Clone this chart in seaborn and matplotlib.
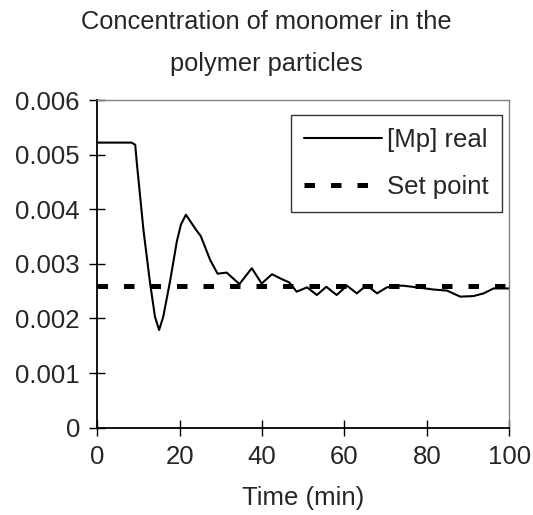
import matplotlib
matplotlib.use("Agg")
import matplotlib.pyplot as plt
import seaborn as sns
import pandas as pd

# values
time_min = [0, 8.3, 9.2, 9.6, 10.4, 11.2, 12.8, 14.0, 15.0, 16.0, 17.7, 19.3, 20.3, 21.5,
            24.0, 25.1, 27.4, 29.2, 31.4, 34.5, 37.5, 39.9, 42.4, 44.8, 46.6, 48.4,
            50.9, 53.3, 55.6, 58.1, 60.6, 63.0, 65.4, 67.9, 70.3, 72.7, 74.3, 77.6,
            81.6, 84.9, 88.1, 91.3, 93.8, 96.2, 99.0, 100]
mp_real = [5.22, 5.22, 5.18, 4.84, 4.23, 3.62, 2.65, 2.03, 1.79, 2.03, 2.70, 3.41, 3.72, 3.90,
           3.62, 3.51, 3.07, 2.82, 2.84, 2.63, 2.92, 2.64, 2.81, 2.72, 2.66, 2.49,
           2.57, 2.43, 2.58, 2.43, 2.60, 2.46, 2.61, 2.46, 2.57, 2.60, 2.60, 2.57,
           2.53, 2.51, 2.40, 2.41, 2.46, 2.55, 2.55, 2.55]
mp_real = [v / 1000 for v in mp_real]
set_time = [0, 100]
set_point = [0.0026, 0.0026]

x_ticks = [0, 20, 40, 60, 80, 100]
y_ticks = [0, 0.001, 0.002, 0.003, 0.004, 0.005, 0.006]
y_labels = ["0", "0.001", "0.002", "0.003", "0.004", "0.005", "0.006"]

df_real = pd.DataFrame({"Time": time_min, "Mp": mp_real})
df_set = pd.DataFrame({"Time": set_time, "Mp": set_point})

sns.set_style("white")
plt.rcParams["font.family"] = ["Liberation Sans", "DejaVu Sans"]

fig = plt.figure(figsize=(5.33, 5.15), dpi=100)
ax = fig.add_axes([0.1826, 0.1695, 0.7728, 0.6363])

sns.lineplot(data=df_real, x="Time", y="Mp", ax=ax, color="black", linewidth=1.5,
             label="[Mp] real")
sns.lineplot(data=df_set, x="Time", y="Mp", ax=ax, color="black", linewidth=3.6,
             label="Set point")
# thick dashes with butt ends, like the original
set_line = ax.lines[-1]
set_line.set_linestyle((0, (2.1, 3.2)))
set_line.set_dash_capstyle("butt")

ax.set_xlim(0, 100)
ax.set_ylim(0, 0.006)
ax.set_xticks(x_ticks)
ax.set_yticks(y_ticks)
ax.set_yticklabels(y_labels)
ax.tick_params(axis="both", which="major", bottom=True, left=True, direction="inout",
               length=11, width=1, color="black", labelsize=18.5, pad=7)
ax.set_xlabel("Time (min)", fontsize=18.5, labelpad=12)
ax.set_ylabel("")

for side in ["left", "bottom"]:
    ax.spines[side].set_color("black")
    ax.spines[side].set_linewidth(1.3)
for side in ["top", "right"]:
    ax.spines[side].set_color("#808080")
    ax.spines[side].set_linewidth(1.0)

leg = ax.legend(loc="upper right", bbox_to_anchor=(0.982, 0.954), fontsize=18.5,
                frameon=True, fancybox=False, handlelength=3.05, handletextpad=0.2,
                labelspacing=0.9, borderpad=0.5, borderaxespad=0)
leg.get_frame().set_edgecolor("black")
leg.get_frame().set_linewidth(1.0)
for h in leg.get_lines():
    h.set_dash_capstyle("butt")

fig.text(0.5, 1 - 10 / 515, "Concentration of monomer in the\npolymer particles",
         ha="center", va="top", fontsize=18.3, linespacing=1.95)

fig.savefig("out.png", dpi=100)
plt.close(fig)
